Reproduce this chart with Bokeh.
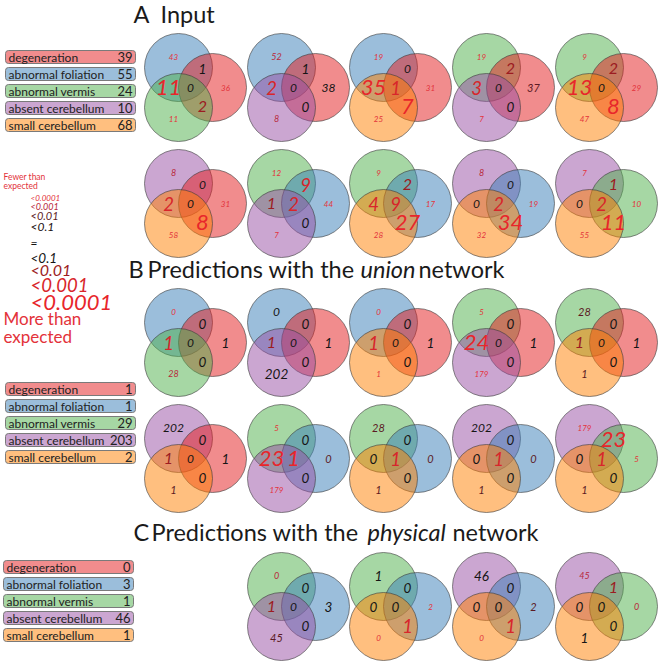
from bokeh.plotting import figure
from bokeh.models import ColumnDataSource, Range1d
from bokeh.core.properties import value
from bokeh.embed import file_html
from bokeh.resources import INLINE

# ---------------- data ----------------
categories = ["degeneration", "abnormal foliation", "abnormal vermis",
              "absent cerebellum", "small cerebellum"]
counts_input = [39, 55, 24, 10, 68]
counts_union = [1, 1, 29, 203, 2]
counts_physical = [0, 3, 1, 46, 1]

DEG, FOL, VER, ABS, SML = 0, 1, 2, 3, 4
# each Venn: (top circle, right circle, bottom circle)
triples_main = [(FOL, DEG, VER), (FOL, DEG, ABS), (FOL, DEG, SML), (VER, DEG, ABS), (VER, DEG, SML),
                (ABS, DEG, SML), (VER, FOL, ABS), (VER, FOL, SML), (ABS, FOL, SML), (ABS, VER, SML)]
triples_physical = [(VER, FOL, ABS), (VER, FOL, SML), (ABS, FOL, SML), (ABS, VER, SML)]

# region order: top only, right only, bottom only, top&right, top&bottom, right&bottom, all three
input_counts = [
    [43, 36, 11, 1, 11, 2, 0], [52, 38, 8, 1, 2, 0, 0], [19, 31, 25, 0, 35, 7, 1],
    [19, 37, 7, 2, 3, 0, 0], [9, 29, 47, 2, 13, 8, 0],
    [8, 31, 58, 0, 2, 8, 0], [12, 44, 7, 9, 1, 0, 2], [9, 17, 28, 2, 4, 27, 9],
    [8, 19, 32, 0, 0, 34, 2], [7, 10, 55, 1, 0, 11, 2]]
# significance level: -4 (far fewer than expected) .. 0 (=) .. +4 (far more than expected)
input_levels = [
    [-4, -4, -4, 1, 4, 2, 0], [-3, 0, -3, 1, 3, 1, 0], [-4, -4, -4, 0, 4, 4, 3],
    [-4, -2, -4, 2, 3, 1, 0], [-4, -4, -4, 2, 4, 4, 0],
    [-3, -4, -4, 0, 3, 4, 0], [-4, -4, -4, 3, 2, 1, 3], [-4, -4, -4, 2, 3, 4, 3],
    [-3, -4, -4, 0, 0, 4, 3], [-4, -4, -4, 2, 0, 4, 3]]
union_counts = [
    [0, 1, 28, 0, 1, 0, 0], [0, 1, 202, 0, 1, 0, 0], [0, 1, 1, 0, 1, 0, 0],
    [5, 1, 179, 0, 24, 0, 0], [28, 1, 1, 0, 1, 0, 0],
    [202, 1, 1, 0, 1, 0, 0], [5, 0, 179, 0, 23, 0, 1], [28, 0, 1, 0, 0, 0, 1],
    [202, 0, 1, 0, 0, 0, 1], [179, 5, 1, 23, 0, 0, 1]]
union_levels = [
    [-4, 1, -3, 1, 3, 1, 0], [0, 1, 1, 1, 2, 1, 0], [-4, 1, -4, 1, 3, 1, 0],
    [-4, 1, -4, 1, 4, 1, 0], [-2, 1, -2, 1, 2, 1, 0],
    [0, 1, -2, 1, 2, 1, 0], [-4, -2, -4, 1, 4, 1, 4], [-2, -2, -2, 1, 1, 1, 3],
    [0, -2, -2, 1, 1, 1, 3], [-4, -4, -2, 4, 1, 1, 3]]
physical_counts = [
    [0, 3, 45, 0, 1, 0, 0], [1, 2, 0, 0, 0, 1, 0], [46, 2, 0, 0, 0, 1, 0], [45, 0, 1, 1, 0, 0, 0]]
physical_levels = [
    [-3, 1, -2, 1, 2, 1, 0], [1, -4, -4, 1, 1, 3, 1], [1, -2, -4, 1, 1, 3, 1], [-3, -3, 1, 2, 1, 1, 1]]

sig_labels = ["<0.0001", "<0.001", "<0.01", "<0.1", "=", "<0.1", "<0.01", "<0.001", "<0.0001"]
sig_levels = [-4, -3, -2, -1, 0, 1, 2, 3, 4]

# ---------------- styles / layout ----------------
cat_colors = ["#E41A1C", "#377EB8", "#4DAF4A", "#984EA3", "#FF7F00"]
level_size = {-4: 8, -3: 9, -2: 11, -1: 12, 0: 12, 1: 13.5, 2: 16, 3: 18.5, 4: 22}
level_color = {-4: "#e3323a", -3: "#b8283a", -2: "#5c1a24", -1: "#1a1012", 0: "#151515",
               1: "#151515", 2: "#9c1c22", 3: "#d8262b", 4: "#e8262b"}
FONT = "Lato"

W, H = 661, 663
col_x = [178, 281, 383, 486, 589]
R = 34
circle_off = [(0, -20), (34, 0), (0, 20)]
region_off = [(-5, -31), (47, 0), (-5, 31), (24, -19), (-10, 0), (24, 19), (12, 0)]

p = figure(width=W, height=H, x_range=Range1d(0, W), y_range=Range1d(H, 0),
           output_backend="svg", toolbar_location=None, x_axis_type=None, y_axis_type=None,
           min_border=0)
p.grid.visible = False
p.outline_line_color = None

circ = dict(x=[], y=[], c=[])
txt = dict(x=[], y=[], t=[], s=[], col=[])


def add_venn(cx, cy, triple, counts, levels):
    for (dx, dy), k in zip(circle_off, triple):
        circ["x"].append(cx + dx)
        circ["y"].append(cy + dy)
        circ["c"].append(cat_colors[k])
    for (dx, dy), n, lv in zip(region_off, counts, levels):
        txt["x"].append(cx + dx)
        txt["y"].append(cy + dy)
        txt["t"].append(str(n))
        txt["s"].append(f"{level_size[lv]}px")
        txt["col"].append(level_color[lv])


rows_main = [(87, input_counts[:5], input_levels[:5], triples_main[:5]),
             (203, input_counts[5:], input_levels[5:], triples_main[5:]),
             (342, union_counts[:5], union_levels[:5], triples_main[:5]),
             (458, union_counts[5:], union_levels[5:], triples_main[5:])]
for cy, cs, ls, ts in rows_main:
    for i in range(5):
        add_venn(col_x[i], cy, ts[i], cs[i], ls[i])
for i in range(4):
    add_venn(col_x[i + 1], 606, triples_physical[i], physical_counts[i], physical_levels[i])

p.circle(x="x", y="y", radius=R, fill_color="c", fill_alpha=0.5, line_color="#3a3a3a",
         line_alpha=0.6, line_width=1, source=ColumnDataSource(circ))
p.text(x="x", y="y", text="t", text_font_size="s", text_color="col", text_font=value(FONT),
       text_font_style="italic", text_align="center", text_baseline="middle",
       source=ColumnDataSource(txt))

# category legends
for top, left, counts in [(50, 5, counts_input), (382, 5, counts_union), (560, 3, counts_physical)]:
    tops = [top + 17 * i for i in range(5)]
    p.quad(left=left, right=left + 130, top=tops, bottom=[t + 13 for t in tops],
           fill_color=cat_colors, fill_alpha=0.5, line_color="#7a7a7a", line_width=1,
           border_radius=3)
    p.text(x=[left + 3] * 5, y=[t + 6.8 for t in tops], text=categories,
           text_font=value(FONT), text_font_size="12px", text_color="#222222",
           text_baseline="middle", text_align="left")
    p.text(x=[left + 127] * 5, y=[t + 6.8 for t in tops], text=[str(c) for c in counts],
           text_font=value(FONT), text_font_size="13px", text_color="#222222",
           text_baseline="middle", text_align="right")

# significance legend
p.text(x=[3, 3], y=[176, 185], text=["Fewer than", "expected"], text_font=value(FONT),
       text_font_size="8.5px", text_color="#e3323a", text_baseline="middle")
sig_y = [197, 206, 215, 226, 242, 257, 269, 284, 301]
p.text(x=[30] * 9, y=sig_y, text=sig_labels, text_font=value(FONT), text_font_style="italic",
       text_font_size=[f"{level_size[l]}px" for l in sig_levels],
       text_color=[level_color[l] for l in sig_levels], text_baseline="middle")
p.text(x=[3, 3], y=[318, 336], text=["More than", "expected"], text_font=value(FONT),
       text_font_size="17px", text_color="#e3323a", text_baseline="middle")

# section titles
def title(x, y, s, italic=False):
    p.text(x=[x], y=[y], text=[s], text_font=value(FONT), text_font_size="23.5px",
           text_font_style="italic" if italic else "normal", text_color="#1a1a1a",
           text_baseline="middle", text_align="left")

title(133, 13, "A")
title(160, 13, "Input")
title(128, 268, "B")
title(147, 268, "Predictions with the")
title(360, 268, "union", True)
title(418, 268, "network")
title(133, 531, "C")
title(151, 531, "Predictions with the")
title(367, 531, "physical", True)
title(452, 531, "network")

open("out.html", "w").write(file_html(p, INLINE))
